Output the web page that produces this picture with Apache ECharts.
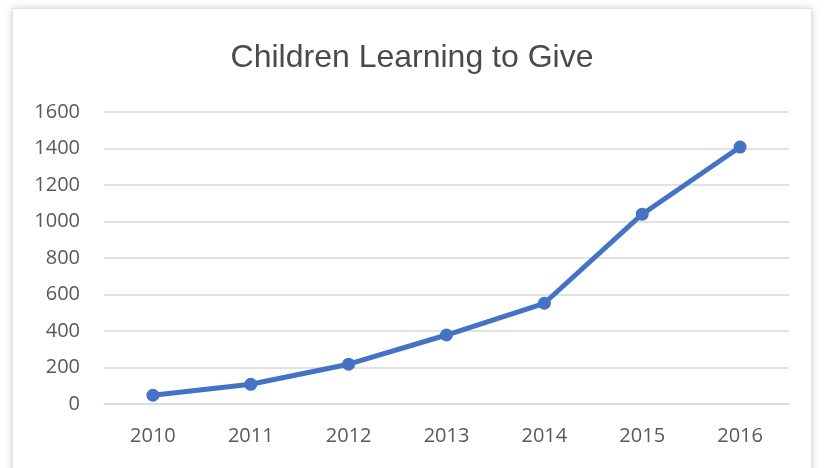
<!DOCTYPE html>
<html>
<head>
<meta charset="utf-8">
<script src="https://cdn.jsdelivr.net/npm/echarts@6/dist/echarts.min.js"></script>
<style>
html,body{margin:0;padding:0;background:#fff;width:824px;height:468px;overflow:hidden;}
#card{position:absolute;left:12px;top:8px;width:798px;height:480px;background:#fff;border:1px solid #e2e2e2;box-shadow:0 0 8px rgba(0,0,0,0.18);}
#chart{position:absolute;left:0;top:0;width:824px;height:468px;}
</style>
</head>
<body>
<div id="card"></div>
<div id="chart"></div>
<script>
const titleText = "Children Learning to Give";
const categories = ["2010","2011","2012","2013","2014","2015","2016"];
const values = [48, 108, 218, 378, 552, 1040, 1408];
const yTicks = {min: 0, max: 1600, interval: 200};

const chart = echarts.init(document.getElementById('chart'), null, {renderer:'canvas'});
chart.setOption({
  backgroundColor: 'transparent',
  animation: false,
  title: {
    text: titleText, left: 'center', top: 37,
    textStyle: {fontFamily: 'Liberation Sans, Arial, sans-serif', fontSize: 32, fontWeight: 'normal', color: '#4a4a4a'}
  },
  grid: {left: 104, right: 35, top: 112, bottom: 64},
  xAxis: {
    type: 'category', data: categories, boundaryGap: true,
    axisLine: {show: true, lineStyle: {color: '#d9d9d9', width: 1.5}},
    axisTick: {show: false},
    axisLabel: {fontFamily: 'Open Sans, sans-serif', fontSize: 20, color: '#595959', margin: 22}
  },
  yAxis: {
    type: 'value', min: yTicks.min, max: yTicks.max, interval: yTicks.interval,
    axisLine: {show: false}, axisTick: {show: false},
    splitLine: {lineStyle: {color: '#d9d9d9', width: 1.5}},
    axisLabel: {fontFamily: 'Open Sans, sans-serif', fontSize: 20, color: '#595959', margin: 24,
      formatter: function (v) { return String(v); }}
  },
  series: [{
    type: 'line', data: values,
    symbol: 'circle', symbolSize: 13,
    lineStyle: {color: '#4472c4', width: 5},
    itemStyle: {color: '#4472c4'}
  }]
});
</script>
</body>
</html>
